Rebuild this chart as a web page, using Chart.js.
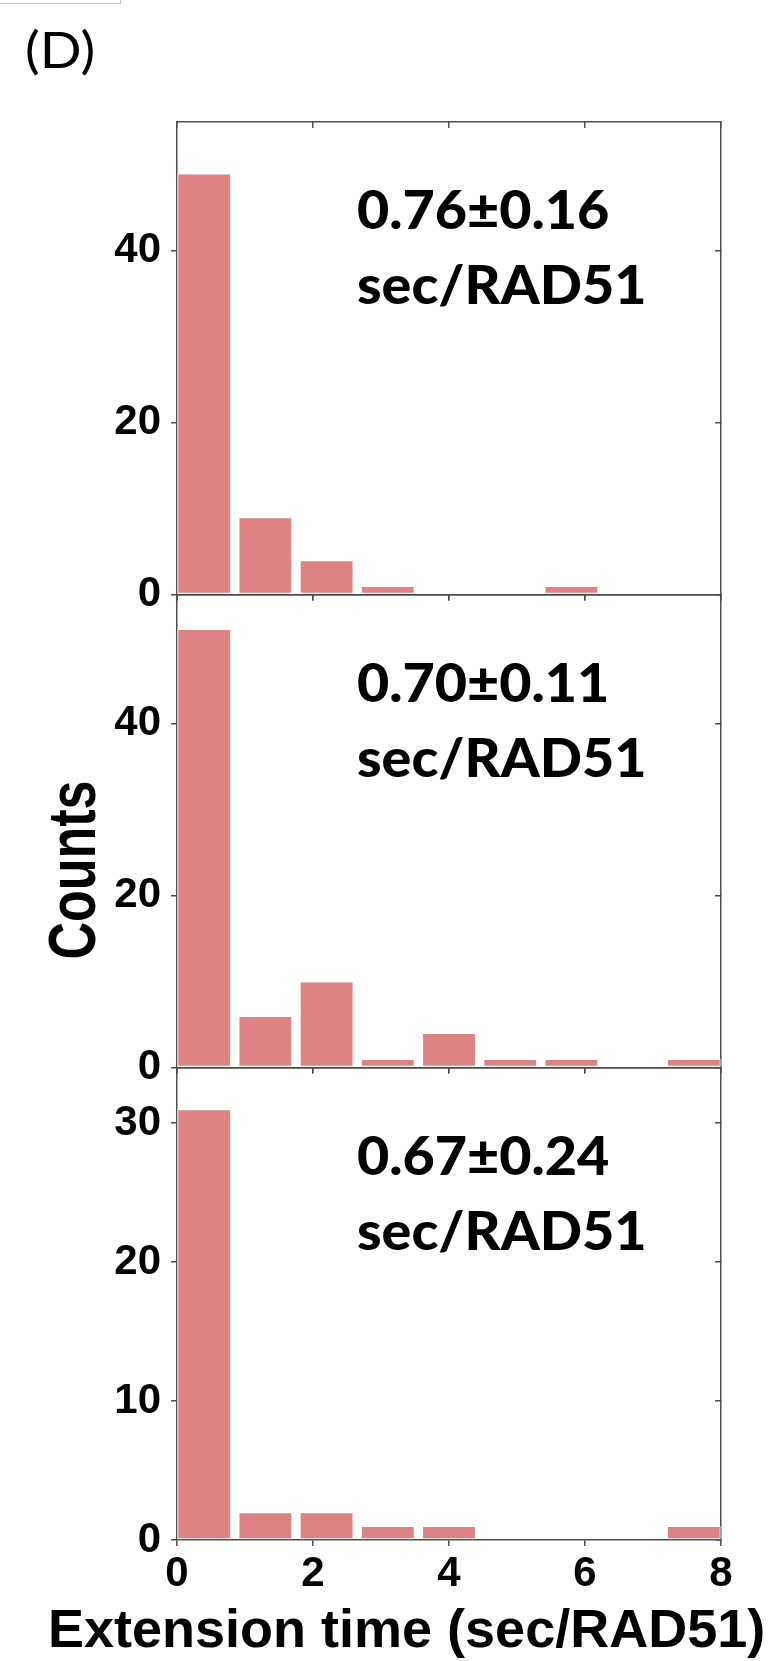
<!DOCTYPE html>
<html>
<head>
<meta charset="utf-8">
<script src="https://cdn.jsdelivr.net/npm/chart.js@4.4.0/dist/chart.umd.min.js"></script>
<style>
    html, body { margin: 0; padding: 0; background: #fff; }
    body { width: 772px; height: 1661px; position: relative; overflow: hidden; }
    canvas { position: absolute; left: 0; }
    #corner { position: absolute; left: -1px; top: -1px; width: 120px; height: 3px; border: 1px solid #c8c8c8; }
</style>
</head>
<body>
<div id="corner"></div>
<canvas id="panelA" width="772" height="620" style="top:0px"></canvas>
<canvas id="panelB" width="772" height="530" style="top:572px"></canvas>
<canvas id="panelC" width="772" height="616" style="top:1045px"></canvas>

<script>
// --- DONNEES ---
const binCenters = [0.4, 1.3, 2.2, 3.1, 4.0, 4.9, 5.8, 6.7, 7.6];
const xTicks = [0, 2, 4, 6, 8];

const countsA = [49, 9, 4, 1, 0, 0, 1, 0, 0];
const countsB = [51, 6, 10, 1, 4, 1, 1, 0, 1];
const countsC = [31, 2, 2, 1, 1, 0, 0, 0, 1];

const yTicksAB = [0, 20, 40];
const yTicksC = [0, 10, 20, 30];

const ratesA = ["0.76±0.16", "sec/RAD51"];
const ratesB = ["0.70±0.11", "sec/RAD51"];
const ratesC = ["0.67±0.24", "sec/RAD51"];

const barColor = "#de8383";
const axisColor = "#4d4d4d";
const tickFont = { family: "'Liberation Sans', Arial, sans-serif", size: 42, weight: "bold" };

// textes dessinés sur le canvas (annotation + titres)
const textPlugin = {
    id: "texts",
    afterDraw(chart, args, opts) {
        const ctx = chart.ctx;
        const area = chart.chartArea;
        const draw = (t, x, y) => {
            ctx.save();
            ctx.font = t.font;
            ctx.fillStyle = "#000";
            ctx.textAlign = t.align || "left";
            ctx.textBaseline = "alphabetic";
            ctx.translate(x, y);
            if (t.rot) ctx.rotate(t.rot);
            ctx.scale(t.sx || 1, t.sy || 1);
            ctx.fillText(t.text, 0, 0);
            ctx.restore();
        };
        if (opts.note) {
            const f = "900 54px Lato, 'Open Sans', sans-serif";
            draw({ text: opts.note[0], font: f, sx: 1.03 }, area.left + 180, area.top + 107);
            draw({ text: opts.note[1], font: f, sx: 1.03 }, area.left + 180, area.top + 182);
        }
        (opts.items || []).forEach(t => draw(t, t.x, t.y));
    }
};

// pas de marge auto autour des axes : la zone du graphe est fixée à la main
const fixSize = (w, h) => s => {
    if (w !== null) s.width = w;
    if (h !== null) s.height = h;
    s.paddingTop = 0; s.paddingBottom = 0; s.paddingLeft = 0; s.paddingRight = 0;
};

function makePanel(id, counts, yMax, yTicks, padTop, xHeight, showX, note, items) {
    const setTicks = list => s => { s.ticks = list.map(v => ({ value: v })); };
    const grid = len => ({
        display: true, drawOnChartArea: false, drawTicks: true, tickLength: len,
        color: axisColor, lineWidth: 1.5, offset: false
    });
    const border = { display: true, color: axisColor, width: 1.5 };

    return new Chart(document.getElementById(id), {
        type: "bar",
        data: {
            datasets: [{
                data: binCenters.map((x, i) => ({ x: x, y: counts[i] })),
                backgroundColor: barColor,
                borderColor: "rgba(255,255,255,0.9)",
                borderWidth: 1,
                borderSkipped: false,
                barPercentage: 0.88,
                categoryPercentage: 1
            }]
        },
        options: {
            responsive: false,
            animation: false,
            layout: { padding: { top: padTop, right: 51, left: 0, bottom: 0 } },
            plugins: {
                legend: { display: false },
                tooltip: { enabled: false },
                texts: { note: note, items: items }
            },
            scales: {
                x: {
                    axis: "x", type: "linear", position: "bottom", min: 0, max: 8, offset: false,
                    afterBuildTicks: setTicks(xTicks),
                    afterFit: fixSize(null, xHeight),
                    grid: grid(6), border: border,
                    ticks: { display: showX, font: tickFont, color: "#000", padding: 3, maxRotation: 0, autoSkip: false }
                },
                xTop: {
                    axis: "x", type: "linear", position: "top", min: 0, max: 8, offset: false,
                    afterBuildTicks: setTicks(xTicks),
                    afterFit: fixSize(null, 0),
                    grid: grid(-6), border: border,
                    ticks: { display: false }
                },
                y: {
                    axis: "y", type: "linear", position: "left", min: 0, max: yMax,
                    afterBuildTicks: setTicks(yTicks),
                    afterFit: fixSize(177, null),
                    grid: grid(6), border: border,
                    ticks: { font: tickFont, color: "#000", padding: 10 }
                },
                yR: {
                    axis: "y", type: "linear", position: "right", min: 0, max: yMax,
                    afterBuildTicks: setTicks(yTicks),
                    afterFit: fixSize(0, null),
                    grid: grid(-6), border: border,
                    ticks: { display: false }
                }
            }
        },
        plugins: [textPlugin]
    });
}

// --- INITIALISATION ---
makePanel("panelA", countsA, 55, yTicksAB, 122, 25.5, false, ratesA, [
    { text: "(D)", x: 25, y: 68, font: "51px Lato, 'Open Sans', sans-serif", sx: 1.08 }
]);
makePanel("panelB", countsB, 55, yTicksAB, 22.5, 34.5, false, ratesB, [
    { text: "Counts", x: 95, y: 298, rot: -Math.PI / 2, align: "center", sy: 1.27,
      font: "bold 52px 'Liberation Sans', Arial, sans-serif" }
]);
makePanel("panelC", countsC, 34, yTicksC, 22.5, 121, true, ratesC, [
    { text: "Extension time (sec/RAD51)", x: 48, y: 602,
      font: "bold 54px 'Liberation Sans', Arial, sans-serif" }
]);
</script>
</body>
</html>
